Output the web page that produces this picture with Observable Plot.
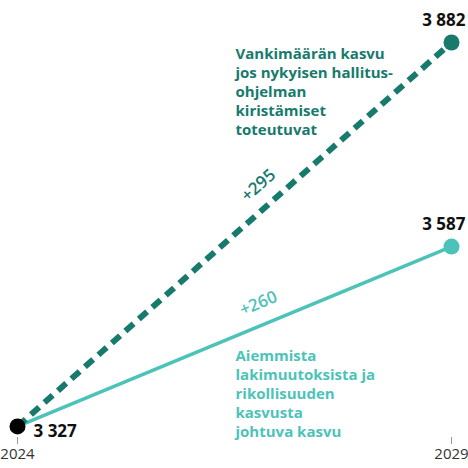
<!DOCTYPE html>
<html>
<head>
<meta charset="utf-8">
<script src="https://cdn.jsdelivr.net/npm/d3@7"></script>
<script src="https://cdn.jsdelivr.net/npm/@observablehq/plot@0.6"></script>
<style>
  body { margin: 0; background: #fff; }
  #chart svg { font-family: "Open Sans", Lato, sans-serif; }
</style>
</head>
<body>
<div id="chart"></div>
<script>
// vuodet ja vankimäärät
const vuodet = [2024, 2029]
const alku = 3327
const kiristys = [3327, 3882]   // hallitusohjelman kiristykset
const perus = [3327, 3587]      // aiemmat lakimuutokset + rikollisuus
const erotukset = ["+295", "+260"]
const selitteet = [
  "Vankimäärän kasvu\njos nykyisen hallitus-\nohjelman\nkiristämiset\ntoteutuvat",
  "Aiemmista\nlakimuutoksista ja\nrikollisuuden\nkasvusta\njohtuva kasvu"
]

const tumma = "#177a6d"
const vaalea = "#4cc3b8"

const fmt = d => d3.format(",")(d).replace(/,/g, " ")
const keski = (vuodet[0] + vuodet[1]) / 2

const kiristysData = vuodet.map((v, i) => ({vuosi: v, arvo: kiristys[i]}))
const perusData = vuodet.map((v, i) => ({vuosi: v, arvo: perus[i]}))

const chart = Plot.plot({
  width: 468,
  height: 468,
  marginLeft: 17,
  marginRight: 17,
  marginTop: 42,
  marginBottom: 31,
  x: {domain: vuodet, type: "linear"},
  y: {domain: [3311, kiristys[1]], axis: null},
  marks: [
    Plot.axisX({
      ticks: vuodet,
      tickFormat: d => String(d),
      tickSize: 7,
      tickPadding: 4,
      fontSize: 15,
      stroke: "#999",
      color: "#333",
      label: null
    }),
    Plot.line(perusData, {x: "vuosi", y: "arvo", stroke: vaalea, strokeWidth: 3.5}),
    Plot.line(kiristysData, {x: "vuosi", y: "arvo", stroke: tumma, strokeWidth: 6,
      strokeDasharray: "11,7", strokeLinecap: "butt"}),
    Plot.dot([perusData[1]], {x: "vuosi", y: "arvo", r: 8, fill: vaalea}),
    Plot.dot([kiristysData[1]], {x: "vuosi", y: "arvo", r: 8, fill: tumma}),
    Plot.dot([{vuosi: vuodet[0], arvo: alku}], {x: "vuosi", y: "arvo", r: 8, fill: "#000"}),
    // arvot
    Plot.text([kiristysData[1], perusData[1]], {
      x: "vuosi", y: "arvo", text: d => fmt(d.arvo),
      textAnchor: "end", dx: 14, dy: -22, fontSize: 17, fontWeight: 700, fill: "#111"
    }),
    Plot.text([{vuosi: vuodet[0], arvo: alku}], {
      x: "vuosi", y: "arvo", text: d => fmt(d.arvo),
      textAnchor: "start", dx: 16, dy: 5, fontSize: 17, fontWeight: 700, fill: "#111"
    }),
    // erotukset viivojen suuntaisesti
    Plot.text([{x: keski, y: (kiristys[0] + kiristys[1]) / 2}], {
      x: "x", y: "y", text: [erotukset[0]], rotate: -41.5,
      dx: 24, dy: -49, fontSize: 17, fontWeight: 600, fill: tumma
    }),
    Plot.text([{x: keski, y: (perus[0] + perus[1]) / 2}], {
      x: "x", y: "y", text: [erotukset[1]], rotate: -22.5,
      dx: 24, dy: -33, fontSize: 17, fontWeight: 600, fill: vaalea
    }),
    // selitteet
    Plot.text([{x: keski, y: kiristys[1]}], {
      x: "x", y: "y", text: [selitteet[0]], textAnchor: "start", lineAnchor: "top",
      dx: 1, dy: 3, lineHeight: 1.27, fontSize: 15, fontWeight: 700, fill: tumma
    }),
    Plot.text([{x: keski, y: (perus[0] + perus[1]) / 2}], {
      x: "x", y: "y", text: [selitteet[1]], textAnchor: "start", lineAnchor: "top",
      dx: 1, dy: 11, lineHeight: 1.27, fontSize: 15, fontWeight: 700, fill: vaalea
    })
  ]
})

document.getElementById("chart").append(chart)
</script>
</body>
</html>
